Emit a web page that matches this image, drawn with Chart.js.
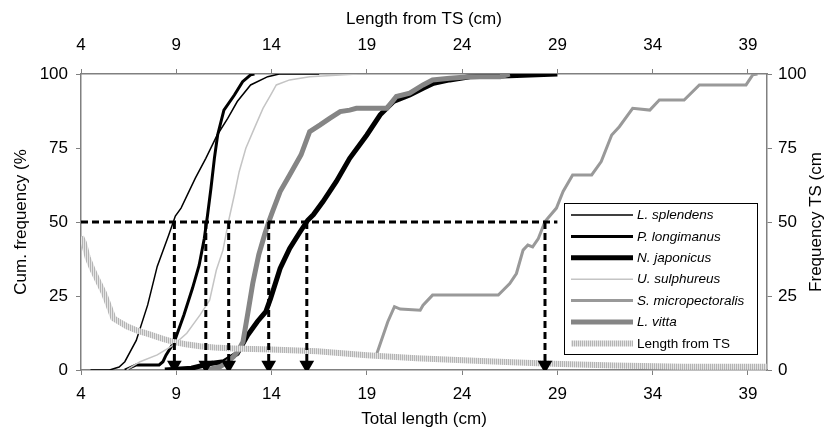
<!DOCTYPE html>
<html>
<head>
<meta charset="utf-8">
<script src="https://cdn.jsdelivr.net/npm/chart.js@4/dist/chart.umd.min.js"></script>
<style>
    body { margin: 0; background: #fff; }
    canvas { display: block; }
</style>
</head>
<body>
<canvas id="cumChart" width="825" height="432"></canvas>
<script>
// tick labels
const lengthTicks = [4, 9, 14, 19, 24, 29, 34, 39];
const percentTicks = [0, 25, 50, 75, 100];

// cumulative length-frequency curves (total length cm / cum. %)
const splendensLen = [4.5, 5.5, 6.0, 6.3, 6.9, 7.5, 8.0, 8.6, 8.95, 9.25, 10.0, 10.55, 11.15, 11.7, 12.2, 12.9, 13.8, 14.4, 16.5];
const splendensCum = [0, 0, 1, 2.8, 10, 22, 35, 45.5, 52, 54.7, 64.8, 71.5, 79.4, 85, 90.7, 96.3, 99.1, 100, 100];

const longimanusLen = [6.3, 6.9, 8.1, 8.3, 8.46, 8.9, 9.4, 9.85, 10.2, 10.47, 10.64, 10.82, 11.0, 11.17, 11.5, 12.05, 12.48, 12.9, 13.1];
const longimanusCum = [0, 1.7, 1.7, 2.8, 5, 9.6, 18.6, 27.6, 35.4, 44.4, 52.3, 61.4, 71.5, 79.4, 87.8, 92.9, 97.4, 99.7, 100];

const japonicusLen = [8.4, 9.8, 10.8, 11.5, 12.2, 12.75, 13.25, 13.7, 13.95, 14.45, 14.95, 15.5, 15.9, 16.2, 16.7, 17.4, 18.1, 19.0, 19.7, 20.4, 21.25, 21.95, 22.5, 23.35, 24.4, 26.5, 29];
const japonicusCum = [0, 0.6, 2.2, 2.8, 5.6, 11.8, 16.3, 19.7, 24.2, 34.3, 41.1, 46.7, 50.6, 52.5, 56.9, 63.7, 71.5, 79.4, 86.2, 90.7, 92.9, 95.2, 96.9, 98, 99.1, 99.4, 100];

const sulphureusLen = [6.4, 7.1, 8.0, 8.85, 9.55, 10.25, 10.75, 11.1, 11.45, 11.75, 12.05, 12.3, 12.65, 13.1, 13.55, 13.95, 14.25, 14.95, 16.0, 17.6, 18.5];
const sulphureusCum = [0, 2.8, 5.1, 8.4, 12.4, 18.6, 23.6, 33.7, 40.5, 50.5, 59.2, 67, 74.9, 81.7, 88.4, 92.9, 96.3, 98, 99.1, 99.7, 100];

const micropectoralisLen = [19.5, 20.1, 20.45, 20.75, 21.8, 21.95, 22.45, 25.9, 26.5, 26.85, 27.2, 27.45, 27.7, 28.0, 28.35, 28.95, 29.3, 29.8, 30.8, 31.3, 31.85, 32.25, 32.95, 33.85, 34.35, 35.65, 36.45, 38.9, 39.25, 39.5];
const micropectoralisCum = [5.1, 16.3, 21.4, 20.6, 20.2, 21.9, 25.3, 25.3, 29.2, 32.6, 40.5, 42.2, 41.6, 44.4, 50.2, 54.7, 60.3, 65.9, 65.9, 70.4, 79.4, 82.2, 88.4, 87.8, 91.2, 91.2, 96.3, 96.3, 99.7, 100];

const vittaLen = [10.6, 11.3, 11.7, 12.0, 12.22, 12.5, 12.76, 13.02, 13.33, 13.65, 13.85, 14.05, 14.45, 14.95, 15.55, 16.0, 16.55, 17.05, 17.6, 18.1, 18.45, 20.05, 20.55, 21.25, 21.95, 22.45, 23.35, 24.4, 26.0, 26.5];
const vittaCum = [0, 1.1, 2.8, 4.5, 6.2, 9.5, 19.4, 29.5, 39, 46, 50, 53.5, 60.3, 65.9, 72.7, 80.5, 82.8, 85, 87.3, 87.8, 88.4, 88.4, 92.4, 93.5, 96.3, 98, 98.6, 99.1, 99.1, 100];

// length from TS (top axis) / frequency TS (right axis)
const tsLen = [4.0, 4.15, 4.35, 4.6, 4.9, 5.2, 5.5, 5.7, 6.0, 6.4, 7.0, 7.6, 8.3, 8.85, 9.5, 10.25, 11.0, 12.0, 14.0, 16.4, 19.0, 21.6, 25.0, 28.3, 32.0, 35.6, 40.0];
const tsFreq = [45, 43, 38, 34, 30, 26, 21, 17.5, 16.3, 14.8, 13.2, 12, 10.5, 9.5, 8.7, 8, 7.6, 7.3, 6.9, 6.3, 5, 4, 3, 2.2, 1.5, 1.1, 1.1];

// 50% guide line and the lengths where each curve crosses it
const halfLevel = 50;
const guideEnd = 29;
const halfLengths = [8.9, 10.55, 11.75, 13.85, 15.85, 28.35];
const arrowTip = 1.7;

const speciesNames = ["L. splendens", "P. longimanus", "N. japonicus", "U. sulphureus", "S. micropectoralis", "L. vitta"];

const canvas = document.getElementById("cumChart");
const ctx = canvas.getContext("2d");

// striped fill for the TS line
const stripe = document.createElement("canvas");
stripe.width = 2;
stripe.height = 2;
const sctx = stripe.getContext("2d");
sctx.fillStyle = "#e4e4e4";
sctx.fillRect(0, 0, 2, 2);
sctx.fillStyle = "#b4b4b4";
sctx.fillRect(0, 0, 1, 2);
const tsPattern = ctx.createPattern(stripe, "repeat");

const toPoints = (xs, ys) => xs.map((x, i) => ({ x: x, y: ys[i] }));

function curve(label, xs, ys, color, width, order) {
    return {
        label: label,
        data: toPoints(xs, ys),
        borderColor: color,
        backgroundColor: color,
        borderWidth: width,
        pointRadius: 0,
        tension: 0,
        order: order,
        inLegend: true
    };
}

const datasets = [
    curve(speciesNames[0], splendensLen, splendensCum, "#000000", 1.5, 8),
    curve(speciesNames[1], longimanusLen, longimanusCum, "#000000", 3, 7),
    curve(speciesNames[2], japonicusLen, japonicusCum, "#000000", 5, 6),
    curve(speciesNames[3], sulphureusLen, sulphureusCum, "#c4c4c4", 1.5, 5),
    curve(speciesNames[4], micropectoralisLen, micropectoralisCum, "#999999", 3, 4),
    curve(speciesNames[5], vittaLen, vittaCum, "#858585", 5, 3),
    Object.assign(curve("Length from TS", tsLen, tsFreq, tsPattern, 6, 2), { xAxisID: "x2", yAxisID: "y2" })
];

// dashed guide at 50%
datasets.push({
    label: "guide",
    data: [{ x: lengthTicks[0], y: halfLevel }, { x: guideEnd, y: halfLevel }],
    borderColor: "#000",
    borderWidth: 3,
    borderDash: [7, 4],
    pointRadius: 0,
    order: 1
});

// dashed arrows down to the axis
halfLengths.forEach(len => {
    datasets.push({
        label: "arrow",
        data: [{ x: len, y: halfLevel }, { x: len, y: arrowTip }],
        borderColor: "#000",
        borderWidth: 3,
        borderDash: [7, 4],
        pointRadius: [0, 5.5],
        pointStyle: "triangle",
        rotation: 180,
        pointBackgroundColor: "#000",
        pointBorderColor: "#000",
        order: 0
    });
});

// legend box inside the plot, like the original
const boxLegend = {
    id: "boxLegend",
    afterDraw(chart) {
        const c = chart.ctx;
        const area = chart.chartArea;
        const w = 193, h = 151;
        const left = area.right - 10 - w;
        const top = area.bottom - 16 - h;
        c.save();
        c.fillStyle = "#fff";
        c.fillRect(left, top, w, h);
        c.strokeStyle = "#000";
        c.lineWidth = 1;
        c.strokeRect(left + 0.5, top + 0.5, w, h);
        const items = chart.data.datasets.filter(d => d.inLegend);
        items.forEach((d, i) => {
            const y = top + 12 + i * 21.4;
            c.beginPath();
            c.strokeStyle = d.borderColor;
            c.lineWidth = d.borderWidth;
            c.moveTo(left + 7, y);
            c.lineTo(left + 69, y);
            c.stroke();
            const italic = speciesNames.includes(d.label) ? "italic " : "";
            c.font = italic + '13.5px "Liberation Sans", Arial, sans-serif';
            c.fillStyle = "#000";
            c.textBaseline = "middle";
            c.textAlign = "left";
            c.fillText(d.label, left + 73, y + 0.5);
        });
        c.restore();
    }
};

// right axis title reads bottom-to-top like the left one
const rightTitle = {
    id: "rightTitle",
    afterDraw(chart) {
        const c = chart.ctx;
        const area = chart.chartArea;
        c.save();
        c.translate(821, (area.top + area.bottom) / 2);
        c.rotate(-Math.PI / 2);
        c.font = '17px "Liberation Sans", Arial, sans-serif';
        c.fillStyle = "#000";
        c.textAlign = "center";
        c.textBaseline = "alphabetic";
        c.fillText("Frequency TS (cm", 0, 0);
        c.restore();
    }
};

Chart.defaults.font.family = '"Liberation Sans", Arial, sans-serif';
Chart.defaults.font.size = 17;
Chart.defaults.color = "#000";

function axis(position, min, max, ticks, size, labelPad, title) {
    const horizontal = position === "top" || position === "bottom";
    return {
        type: "linear",
        position: position,
        min: min,
        max: max,
        afterBuildTicks: s => { s.ticks = ticks.map(v => ({ value: v })); },
        afterFit: s => { if (horizontal) s.height = size; else s.width = size; },
        ticks: { padding: labelPad, maxRotation: 0, autoSkip: false, color: "#000" },
        grid: { drawOnChartArea: false, drawTicks: true, tickLength: 5, color: "#808080", lineWidth: 1 },
        border: { display: true, color: "#808080", width: 1.5 },
        title: title
    };
}

new Chart(ctx, {
    type: "line",
    data: { datasets: datasets },
    options: {
        responsive: false,
        animation: false,
        devicePixelRatio: 1,
        layout: { padding: 0 },
        plugins: {
            legend: { display: false },
            tooltip: { enabled: false }
        },
        scales: {
            x: axis("bottom", 4, 40, lengthTicks, 62, 9,
                { display: true, text: "Total length (cm)", padding: { top: 0, bottom: 2 }, font: { size: 17 } }),
            x2: axis("top", 4, 40, lengthTicks, 74, 13,
                { display: true, text: "Length from TS (cm)", padding: { top: 9, bottom: 0 }, font: { size: 17 } }),
            y: axis("left", 0, 100, percentTicks, 81, 8,
                { display: true, text: "Cum. frequency (%", padding: { top: 11, bottom: 0 }, font: { size: 17 } }),
            y2: axis("right", 0, 100, percentTicks, 58, 6, { display: false })
        }
    },
    plugins: [boxLegend, rightTitle]
});
</script>
</body>
</html>
